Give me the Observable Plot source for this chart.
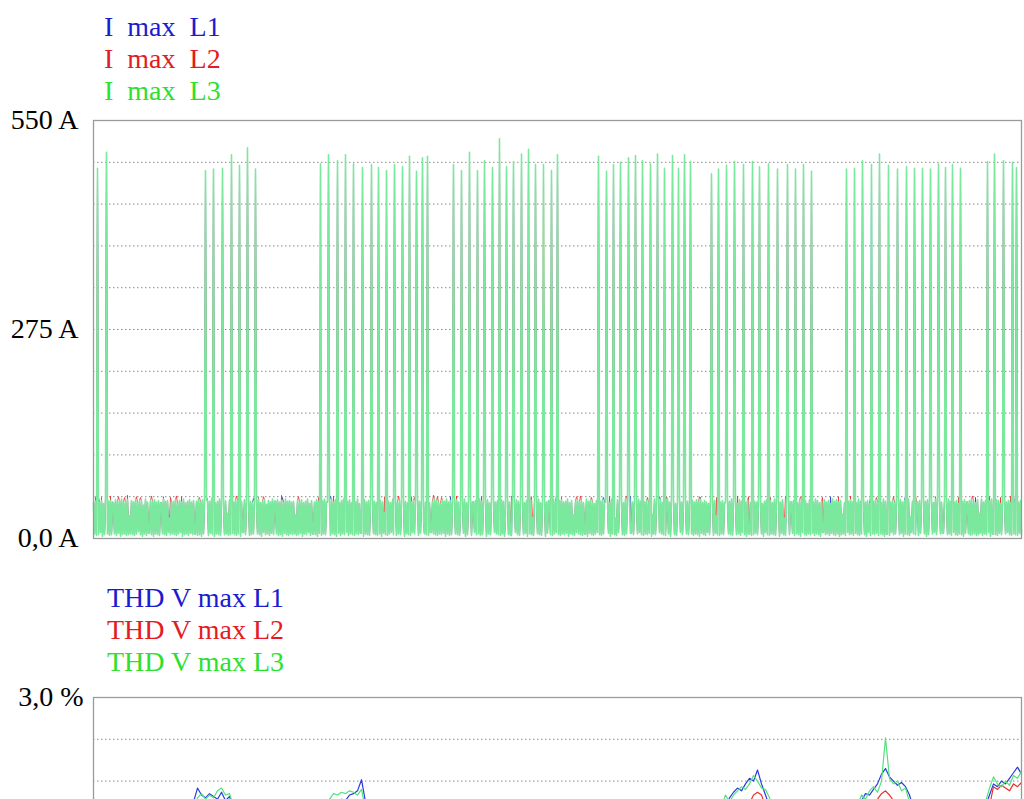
<!DOCTYPE html>
<html><head><meta charset="utf-8">
<script src="https://cdn.jsdelivr.net/npm/d3@7"></script>
<script src="https://cdn.jsdelivr.net/npm/@observablehq/plot@0.6"></script>
<style>
html,body{margin:0;padding:0;background:#fff;}
#page{position:relative;width:1024px;height:799px;overflow:hidden;font-family:"Liberation Serif","Times New Roman",serif;}
.legend{position:absolute;font-size:28px;line-height:32px;white-space:pre;}
#chart1{position:absolute;left:0;top:100px;}
#chart2{position:absolute;left:0;top:677px;}
</style></head>
<body><div id="page">
<div class="legend" style="left:104px;top:11px;"><div style="color:#1c1ccf">I  max  L1</div><div style="color:#e41b23">I  max  L2</div><div style="color:#2ee02e">I  max  L3</div></div>
<div class="legend" style="left:107px;top:582px;"><div style="color:#1c1ccf">THD V max L1</div><div style="color:#e41b23">THD V max L2</div><div style="color:#2ee02e">THD V max L3</div></div>
<div id="chart1"></div>
<div id="chart2"></div>
</div>
<script>
// ---------- Current chart (I max), one sample per column ----------
const currentTicks = [0, 275, 550];
const currentTickLabels = ["0,0 A", "275 A", "550 A"];
const currentGrid = [55, 110, 165, 220, 275, 330, 385, 440, 495];

// L3 base level (A)
const currentL3Base = [
47,6,49,4,51,5,48,8,50,3,46,5,52,7,6,49,4,50,5,48,47,6,51,4,49,7,50,3,52,5,48,6,49,4,51,5,30,6,50,5,
48,4,51,6,47,9,50,5,49,3,44,6,52,4,48,7,7,50,5,49,3,51,6,48,5,50,4,47,47,6,52,5,49,4,50,8,27,5,48,6,
49,5,51,4,46,6,50,8,48,3,52,5,47,6,49,4,51,7,48,5,50,6,6,49,4,52,5,48,3,51,6,47,5,50,50,4,49,7,51,5,
50,3,47,6,49,5,52,4,48,9,46,5,50,6,33,4,51,5,49,7,48,5,51,4,50,6,47,3,49,8,8,51,5,48,6,52,4,49,5,47,
6,48,4,50,6,52,5,47,3,49,8,51,5,45,6,50,4,48,7,52,5,49,49,6,51,4,48,5,50,3,47,7,52,5,49,4,50,6,48,5,
49,6,31,4,50,5,48,7,51,3,47,6,49,5,52,8,46,4,50,6,6,48,5,51,3,49,7,47,4,50,6,52,5,48,48,5,50,4,51,6,
48,5,51,3,49,7,47,4,50,6,52,5,28,8,49,4,51,6,47,5,50,4,48,6,52,5,46,7,7,49,3,51,6,48,5,50,4,45,8,52,
6,49,5,47,4,51,6,50,3,48,7,34,5,52,4,49,6,47,8,50,5,51,51,4,48,6,50,5,46,7,52,3,49,6,47,5,51,4,48,8,
50,6,47,5,52,4,49,7,50,3,26,6,48,5,51,4,47,8,8,49,6,52,5,50,4,48,6,46,5,51,7,49,3,52,6,48,4,50,5,47,
8,49,6,51,5,48,4,29,6,50,7,52,3,47,5,49,6,51,4,48,48,8,50,5,46,6,52,4,49,5,50,7,48,3,51,6,47,5,49,4,
52,8,48,6,50,5,47,4,51,6,49,3,33,7,52,5,48,4,4,50,6,46,8,51,5,49,4,48,6,52,5,47,7,50,3,49,6,51,5,28,
4,48,8,50,6,52,5,47,4,49,6,51,3,48,7,50,50,5,46,4,52,6,49,8,47,5,50,4,51,6,48,5,49,7,52,3,47,6,50,5,
31,4,49,8,51,6,48,5,50,4,47,6,6,52,3,49,7,51,5,48,4,46,6,50,8,52,5,49,4,51,6,48,48,5,50,7,47,3,52,6,
49,5,27,4,51,8,48,6,50,5,47,4,52,6,49,3,51,7,7,48,5,50,4,46,6,52,8,49,5,51,4,48,6,50,5,47,7,49,3,32,
6,52,5,48,4,50,8,51,6,47,5,49,4,52,52,6,48,3,50,7,51,5,46,4,49,6,52,8,48,5,50,4,51,6,49,5,47,6,6,50,
4,48,6,51,5,49,3,52,7,47,5,50,4,48,8,46,5,51,6,49,4,50,7,30,5,52,4,48,6,50,5,47,47,3,51,6,49,5,52,4,
48,7,50,5,46,6,51,4,49,8,52,5,48,3,50,6,6,47,4,51,5,49,7,48,5,52,4,50,6,46,3,49,8,51,5,48,4,50,6,47,
5,52,4,49,6,50,3,48,7,51,5,27,4,49,6,52,5,48,48,7,50,4,51,6,47,5,49,3,52,8,48,5,50,4,46,6,51,5,49,7,
48,4,52,6,50,5,47,3,49,8,8,51,5,48,6,50,4,46,7,52,5,49,4,51,6,48,3,50,5,32,6,47,4,52,8,49,5,51,6,48,
4,50,7,47,5,52,4,49,6,51,51,5,48,3,50,8,46,4,52,6,49,5,51,7,48,4,50,6,47,5,52,3,49,6,6,51,4,48,8,50,
5,47,6,52,4,49,5,51,7,48,3,50,6,46,5,52,4,29,8,49,6,51,5,48,48,4,50,7,47,5,52,6,49,3,51,5,48,4,50,6,
47,8,52,5,49,4,51,6,48,7,7,50,3,47,5,52,6,49,4,51,8,48,5,50,4,46,6,52,5,49,3,51,7,48,48,6,50,4,52,5,
49,6,47,4,51,5,33,7,52,4,48,6,50,5,47,8,49,3,52,6,6,48,5,51,4,50,7,46,5,49,4,52,6,48,8,50,5,47,4,51,
6,49,5,52,4,48,7,50,5];

const l2DiffIdx = [2,8,17,25,31,34,43,47,58,70,77,83,88,106,119,143,165,170,188,205,225,240,291,300,305,318,321,340,344,348,363,388,398,418,438,463,468,483,487,498,516,533,554,573,578,606,623,644,655,677,692,707,729,745,757,783,800,822,842,865,879,896,907,917];
const l2DiffVal = [55,54,56,55,54,57,55,54,56,55,54,56,55,54,55,56,54,55,57,55,54,56,55,54,56,55,54,57,55,54,56,55,54,56,55,57,54,55,56,54,55,56,54,55,57,55,54,56,55,54,56,55,54,55,56,54,55,57,55,54,56,55,54,56];
const l1DiffIdx = [5,113,160,189,237,324,357,459,510,537,566,607,667,737,777,812,882,922];
const l1DiffVal = [54,55,53,54,56,54,55,53,54,56,55,54,53,55,54,56,54,55];

// current peaks: sample positions and values per phase
const spikeIdx = [4,13, 112,120,129,138,146,154,162,
 227,235,244,252,260,269,278,285,293,301,309,316,323,329,334,
 360,368,376,384,391,399,406,413,420,428,435,442,450,458,464,
 505,513,520,527,535,542,549,557,564,571,579,585,591,597,
 618,625,633,641,650,659,666,675,684,694,702,710,718,
 753,761,769,778,786,795,804,813,821,829,837,845,852,859,867,
 894,901,910,919,923];
const spikeL3 = [487,508, 484,486,487,505,491,514,486,
 493,505,497,505,493,488,492,488,484,492,489,503,483,501,503,
 492,484,508,484,497,488,526,489,496,506,512,492,492,484,505,
 503,483,492,495,501,504,497,493,506,487,504,487,505,496,
 480,486,491,496,492,496,489,493,486,492,486,492,483,
 486,487,497,492,506,491,486,489,487,487,486,493,488,492,487,
 496,506,497,495,488];
const spikeL2 = [480,503, 478,482,480,497,488,505,482,
 490,497,492,500,489,482,488,484,430,487,485,497,480,494,498,
 488,480,500,481,490,484,515,485,490,498,505,488,486,480,498,
 497,480,486,490,494,498,492,488,500,375,498,483,500,490,
 477,482,486,490,488,490,484,488,482,487,480,488,480,
 482,280,492,363,500,487,482,485,482,483,481,488,484,487,482,
 490,500,492,490,484];
const spikeL1 = [476,500, 474,479,476,493,485,500,480,
 282,494,490,496,486,480,485,481,480,484,482,494,478,490,495,
 485,478,497,479,487,481,510,482,488,495,500,484,352,478,495,
 494,478,484,487,491,495,489,485,497,484,495,335,497,487,
 475,480,484,487,486,488,482,486,480,485,478,486,478,
 480,483,489,487,496,386,480,483,480,481,479,486,482,485,480,
 487,497,489,487,482];

// ---------- THD chart ----------
const thdTicks = [3.0];
const thdTickLabels = ["3,0 %"];
const thdGrid = [0.3, 0.6, 0.9, 1.2, 1.5, 1.8, 2.1, 2.4, 2.7];

const thdL3 = [
2.28,2.15,2.08,2.12,2.05,2.1,2.02,1.98,2.06,2.1,2.04,2.0,1.96,2.03,2.08,2.01,1.97,2.05,2.1,2.06,
2.02,2.08,2.12,2.15,2.18,2.2,2.28,2.31,2.27,2.3,2.28,2.33,2.35,2.3,2.31,2.22,2.15,2.1,2.06,2.02,
1.98,2.03,2.07,2.0,1.96,2.02,2.05,1.99,2.04,2.08,2.1,2.06,2.12,2.15,2.1,2.18,2.2,2.16,2.22,2.27,
2.31,2.3,2.32,2.31,2.33,2.32,2.3,2.34,2.2,2.12,2.06,2.02,1.98,2.04,2.0,1.95,1.99,2.03,1.97,1.94,
1.98,2.02,1.96,1.92,1.97,2.0,1.95,1.91,1.96,2.0,1.94,1.9,1.95,1.99,1.93,1.9,1.94,1.98,1.92,1.89,
1.93,1.97,1.91,1.88,1.92,1.96,1.9,1.87,1.92,1.95,1.89,1.86,1.91,1.94,1.88,1.85,1.9,1.94,1.89,1.86,
1.9,1.93,1.88,1.85,1.89,1.93,1.87,1.84,1.89,1.92,1.88,1.91,1.95,1.9,1.94,1.98,1.93,1.97,2.0,1.96,
2.0,2.04,1.99,2.03,2.07,2.02,2.06,2.1,2.05,2.09,2.13,2.08,2.12,2.16,2.11,2.15,2.19,2.22,2.3,2.25,
2.3,2.33,2.36,2.34,2.38,2.44,2.4,2.35,2.34,2.28,2.2,2.15,2.1,2.14,2.08,2.12,2.05,2.1,2.14,2.08,
2.12,2.16,2.1,2.14,2.18,2.12,2.16,2.2,2.15,2.19,2.17,2.22,2.3,2.27,2.33,2.36,2.32,2.4,2.71,2.42,
2.38,2.4,2.33,2.35,2.25,2.18,2.12,2.16,2.1,2.14,2.08,2.12,2.16,2.1,2.15,2.19,2.13,2.17,2.21,2.16,
2.2,2.24,2.18,2.25,2.35,2.43,2.38,2.36,2.4,2.37,2.44,2.42,2.47];

const thdL1 = [
2.22,2.12,2.05,2.1,2.03,2.08,2.0,1.96,2.04,2.08,2.02,1.98,1.94,2.01,2.06,1.99,1.95,2.03,2.08,2.04,
2.0,2.06,2.1,2.13,2.16,2.25,2.35,2.3,2.28,2.31,2.29,2.27,2.32,2.26,2.29,2.2,2.13,2.08,2.04,2.0,
1.96,2.01,2.05,1.98,1.94,2.0,2.03,1.97,2.02,2.06,2.08,2.04,2.1,2.13,2.08,2.16,2.18,2.14,2.2,2.24,
2.26,2.25,2.27,2.26,2.3,2.31,2.33,2.41,2.25,2.1,2.04,2.0,1.96,2.02,1.98,1.93,1.97,2.01,1.95,1.92,
1.96,2.0,1.94,1.9,1.95,1.98,1.93,1.89,1.94,1.98,1.92,1.88,1.93,1.97,1.91,1.88,1.92,1.96,1.9,1.87,
1.91,1.95,1.89,1.86,1.9,1.94,1.88,1.85,1.9,1.93,1.87,1.84,1.89,1.92,1.86,1.83,1.88,1.92,1.87,1.84,
1.88,1.91,1.86,1.83,1.87,1.91,1.85,1.82,1.87,1.9,1.86,1.89,1.93,1.88,1.92,1.96,1.91,1.95,1.98,1.94,
1.98,2.02,1.97,2.01,2.05,2.0,2.04,2.08,2.03,2.07,2.11,2.06,2.1,2.14,2.09,2.13,2.17,2.2,2.2,2.28,
2.32,2.35,2.33,2.38,2.42,2.4,2.48,2.38,2.3,2.22,2.16,2.12,2.08,2.12,2.06,2.1,2.03,2.08,2.12,2.06,
2.1,2.14,2.08,2.12,2.16,2.1,2.14,2.18,2.13,2.17,2.15,2.2,2.26,2.31,2.3,2.34,2.38,2.45,2.49,2.43,
2.4,2.37,2.39,2.36,2.3,2.2,2.1,2.14,2.08,2.12,2.06,2.1,2.14,2.08,2.13,2.17,2.11,2.15,2.19,2.14,
2.18,2.22,2.16,2.22,2.3,2.38,2.36,2.4,2.38,2.42,2.46,2.5,2.45];

const thdL2 = [
2.1,2.02,1.96,2.0,1.94,1.99,1.92,1.88,1.95,1.99,1.93,1.9,1.86,1.92,1.97,1.9,1.87,1.94,1.99,1.95,
1.92,1.97,2.01,2.04,2.07,2.1,2.15,2.18,2.14,2.17,2.15,2.18,2.2,2.16,2.18,2.1,2.04,2.0,1.96,1.92,
1.88,1.93,1.96,1.9,1.86,1.92,1.95,1.89,1.94,1.97,2.0,1.96,2.02,2.05,2.0,2.07,2.1,2.06,2.12,2.16,
2.18,2.17,2.19,2.18,2.2,2.19,2.18,2.22,2.1,2.02,1.96,1.92,1.88,1.94,1.9,1.85,1.89,1.93,1.87,1.84,
1.88,1.92,1.86,1.82,1.87,1.9,1.85,1.81,1.86,1.9,1.84,1.8,1.85,1.89,1.83,1.8,1.84,1.88,1.82,1.79,
1.83,1.87,1.81,1.78,1.82,1.86,1.8,1.77,1.82,1.85,1.79,1.76,1.81,1.84,1.78,1.75,1.8,1.84,1.79,1.76,
1.8,1.83,1.78,1.75,1.79,1.83,1.77,1.74,1.79,1.82,1.78,1.81,1.85,1.8,1.84,1.88,1.83,1.87,1.9,1.86,
1.9,1.94,1.89,1.93,1.97,1.92,1.96,2.0,1.95,1.99,2.03,1.98,2.02,2.06,2.01,2.05,2.09,2.12,2.16,2.14,
2.18,2.2,2.22,2.21,2.24,2.3,2.32,2.3,2.22,2.16,2.08,2.04,2.0,2.04,1.98,2.02,1.95,2.0,2.04,1.98,
2.02,2.06,2.0,2.04,2.08,2.02,2.06,2.1,2.05,2.09,2.07,2.12,2.18,2.2,2.22,2.25,2.27,2.31,2.33,2.3,
2.26,2.24,2.22,2.2,2.16,2.1,2.02,2.06,2.0,2.04,1.98,2.02,2.06,2.0,2.05,2.09,2.03,2.07,2.11,2.06,
2.1,2.14,2.08,2.14,2.22,2.36,2.34,2.37,2.35,2.33,2.38,2.36,2.39];

const colL1 = "#2b3bdc", colL2 = "#ee3030", colL3 = "#7ae89d";

// ---------- build tables ----------
const nCur = currentL3Base.length;
const spikePos = new Map(spikeIdx.map((k, j) => [k, j]));
const l2Diff = new Map(l2DiffIdx.map((k, j) => [k, l2DiffVal[j]]));
const l1Diff = new Map(l1DiffIdx.map((k, j) => [k, l1DiffVal[j]]));
const currentTable = d3.range(nCur).map(i => {
  const j = spikePos.get(i);
  const b = currentL3Base[i];
  return {
    i,
    L1: j !== undefined ? spikeL1[j] : (l1Diff.has(i) ? l1Diff.get(i) : b),
    L2: j !== undefined ? spikeL2[j] : (l2Diff.has(i) ? l2Diff.get(i) : b),
    L3: j !== undefined ? spikeL3[j] : b
  };
});
const nThd = Math.min(thdL1.length, thdL2.length, thdL3.length);
const thdTable = d3.range(nThd).map(i => ({i, L1: thdL1[i], L2: thdL2[i], L3: thdL3[i]}));

const svgStyle = {fontFamily: "'Liberation Serif','Times New Roman',serif", fontSize: "28px", background: "transparent", overflow: "visible", color: "#000"};

const chart1 = Plot.plot({
  width: 1024, height: 450,
  marginLeft: 93, marginRight: 3, marginTop: 20, marginBottom: 12,
  style: svgStyle,
  x: {domain: [0, nCur - 1], axis: null},
  y: {domain: [0, 550], axis: null},
  marks: [
    Plot.gridY(currentGrid, {stroke: "#8c8c8c", strokeOpacity: 1, strokeDasharray: "1.5,2.5"}),
    Plot.line(currentTable, {x: "i", y: "L1", stroke: colL1, strokeWidth: 0.8}),
    Plot.line(currentTable, {x: "i", y: "L2", stroke: colL2, strokeWidth: 0.8}),
    Plot.line(currentTable, {x: "i", y: "L3", stroke: colL3, strokeWidth: 1.6}),
    Plot.frame({stroke: "#9a9a9a", strokeWidth: 1.3}),
    Plot.axisY(currentTicks, {tickSize: 0, tickPadding: 15, label: null,
      tickFormat: d => currentTickLabels[currentTicks.indexOf(d)], fill: "#000"})
  ]
});
document.getElementById("chart1").appendChild(chart1);

const chart2 = Plot.plot({
  width: 1024, height: 448,
  marginLeft: 93, marginRight: 3, marginTop: 20, marginBottom: 10,
  style: svgStyle,
  x: {domain: [0, nThd - 1], axis: null},
  y: {domain: [0, 3], axis: null},
  marks: [
    Plot.gridY(thdGrid, {stroke: "#8c8c8c", strokeOpacity: 1, strokeDasharray: "1.5,2.5"}),
    Plot.line(thdTable, {x: "i", y: "L1", stroke: colL1, strokeWidth: 1.2}),
    Plot.line(thdTable, {x: "i", y: "L2", stroke: colL2, strokeWidth: 1.2}),
    Plot.line(thdTable, {x: "i", y: "L3", stroke: "#55e07f", strokeWidth: 1.2}),
    Plot.frame({stroke: "#9a9a9a", strokeWidth: 1.3}),
    Plot.axisY(thdTicks, {tickSize: 0, tickPadding: 10, label: null,
      tickFormat: d => thdTickLabels[thdTicks.indexOf(d)], fill: "#000"})
  ]
});
document.getElementById("chart2").appendChild(chart2);
</script>
</body></html>
